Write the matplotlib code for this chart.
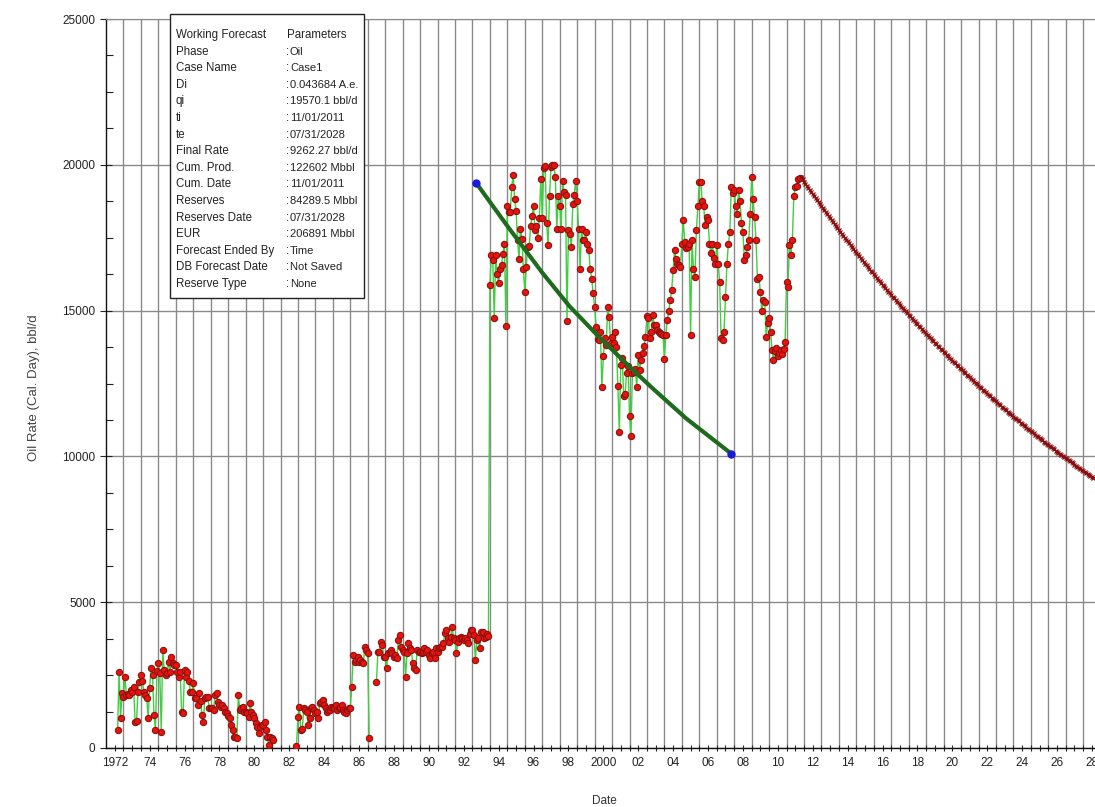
import numpy as np
import matplotlib.pyplot as plt
from matplotlib.patches import Rectangle
from matplotlib.ticker import MultipleLocator, FixedLocator, FixedFormatter

plt.rcParams['font.family'] = ['Liberation Sans', 'DejaVu Sans']
plt.rcParams['font.size'] = 8.5

nan = np.nan

# monthly oil rate (bbl/d, calendar day), one row per year, Jan..Dec
oil_1972_start = 1972
oil_1972 = [
    nan, nan, nan, nan, nan, nan, nan, nan, 620, 2620, 1020, 1880,
    1760, 2450, 1820, 1850, 1820, 1990, 1930, 2100, 900, 940, 1930, 2270,
    2500, 2300, 1930, 1820, 1700, 1020, 2050, 2730, 2500, 1130, 620, 2650,
    2900, 2560, 560, 3360, 2680, 2500, 2560, 2960, 2620, 3130, 2900, 2850,
    2850, 2620, 2450, 2620, 1250, 1190, 2680, 2450, 2620, 2300, 1930, 1930,
    2220, 1700, 1700, 1470, 1880, 1600, 1130, 900, 1700, 1760, 1760, 1360,
    1360, 1360, 1300, 1820, 1880, 1590, 1470, 1420, 1470, 1360, 1250, 1190,
    1100, 1020, 790, 620, 390, 390, 330, 1820, 1300, 1360, 1420, 1250,
    1250, 1190, 1070, 1530, 1250, 1130, 1020, 850, 730, 500, 730, 790,
    790, 900, 620, 390, 100, 390, 330, 270, nan, nan, nan, nan,
]

oil_1982_start = 1982
oil_1982 = [
    nan, nan, nan, nan, nan, nan, nan, nan, nan, nan, nan, 80,
    1070, 1420, 620, 640, 1360, 1300, 1250, 790, 1020, 1360, 1420, 1300,
    1190, 1250, 1020, 1530, 1590, 1650, 1470, 1360, 1250, 1300, 1300, 1420,
    1420, 1360, 1470, 1300, 1360, 1420, 1470, 1300, 1250, 1190, 1300, 1360,
    1360, 2100, 3190, 2960, 3020, 3130, 2960, 3020, 2960, 2900, 3480, 3360,
    3250, 330, nan, nan, nan, nan, 2280, 3300, 3300, 3650, 3530, 3130,
    3130, 2730, 3250, 3300, 3360, 3250, 3130, 3190, 3080, 3700, 3880, 3480,
    3360, 3300, 2450, 3250, 3590, 3420, 3360, 2900, 2730, 2680, 3360, 3300,
    3300, 3250, 3300, 3420, 3300, 3360, 3190, 3080, 3250, 3300, 3080, 3420,
    3300, 3420, 3480, 3480, 3590, 3930, 4050, 3760, 3650, 3820, 4160, 3760,
    3700, 3250, 3650, 3760, 3820, 3760, 3700, 3760, 3700, 3590, 3900, 4050,
    4050, 3880, 3020, 3700, 3760, 3420, 3990, 3990, 3760, 3820, 3900, 3850,
]

oil_1994_start = 1994
oil_1994 = [
    15880, 16900, 16730, 14740, 16900, 16270, 15950, 16440, 16560, 16950, 17300, 14480,
    18600, 18380, 18380, 19250, 19660, 18830, 18430, 17430, 16780, 17810, 17470, 16440,
    15650, 16500, 17180, 17200, 17890, 18260, 18600, 17750, 17890, 17500, 18180, 19510,
    18180, 19890, 19970, 18000, 17240, 18940, 19910, 20000, 20000, 19570, 17800, 18940,
    18600, 17810, 19430, 19060, 18980, 14630, 17750, 17640, 17180, 18660, 18980, 19450,
    18770, 17800, 16410, 17800, 17410, 17410, 17690, 17300, 17070, 16440, 16070, 15600,
    15140, 14430, 14020, 14000, 14280, 12390, 13430, 14060, 13830, 15140, 14770, 13890,
    14110, 13900, 14250, 13750, 12430, 10820, 13150, 13380, 12070, 12130, 12860, 13090,
    11390, 10710, 12860, 12900, 13000, 12390, 13490, 12980, 13320, 13550, 13770, 14110,
    14800, 14740, 14060, 14280, 14850, 14510, 14510, 14340, 14280, 14220, 14200, 14170,
    13340, 14170, 14680, 14970, 15360, 15700, 16400, 17070, 16780, 16610, 16560, 16500,
    17300, 18090, 17350, 17130, 17180, 17300, 14170, 17410, 16440, 16160, 17750, 18600,
    19400, 19400, 18770, 18600, 17920, 18200, 18090, 17300, 16960, 17300, 16800, 16610,
    17240, 16610, 15990, 14060, 13980, 14280, 15480, 16610, 17300, 17690, 19250, 19020,
    19140, 18600, 18320, 19140, 18750, 18000, 17690, 16730, 16900, 17180, 17410, 18320,
    19570, 18830, 18200, 17410, 16100, 16160, 15650, 14970, 15360, 15300, 14110, 14570,
    14740, 14280, 13660, 13320, 13600, 13720, 13430, 13550, 13660, 13500, 13700, 13940,
    15990, 15820, 17240, 16900, 17410, 18940, 19230, 19280, 19510, 19550,
]

# earlier decline trend drawn between the two blue handles
trend_years = [1993.21, 1995.0, 1997.0, 1998.56, 2000.28, 2002.0, 2003.33, 2005.25, 2007.84]
trend_rates = [19380, 17900, 16300, 15150, 14080, 13080, 12330, 11300, 10090]

# working forecast parameters (exponential, annual effective decline)
qi = 19570.1
di = 0.043684
ti = 2011 + 10 / 12
te = 2028 + 7 / 12 - 1 / 365

info_labels = ['Working Forecast', 'Phase', 'Case Name', 'Di', 'qi', 'ti', 'te',
               'Final Rate', 'Cum. Prod.', 'Cum. Date', 'Reserves', 'Reserves Date',
               'EUR', 'Forecast Ended By', 'DB Forecast Date', 'Reserve Type']
info_values = ['Parameters', 'Oil', 'Case1', '0.043684 A.e.', '19570.1 bbl/d',
               '11/01/2011', '07/31/2028', '9262.27 bbl/d', '122602 Mbbl',
               '11/01/2011', '84289.5 Mbbl', '07/31/2028', '206891 Mbbl',
               'Time', 'Not Saved', 'None']

year_labels = ['1972', '74', '76', '78', '80', '82', '84', '86', '88', '90', '92', '94',
               '96', '98', '2000', '02', '04', '06', '08', '10', '12', '14', '16', '18',
               '20', '22', '24', '26', '28']

W, H = 1095, 807
fig = plt.figure(figsize=(W / 100, H / 100), dpi=100)
ax = fig.add_axes([106 / W, 59 / H, 1 - 106 / W, (748 - 19) / H])

grid_kw = dict(color='#8a8a8a', lw=1.0)
line_green = '#3fcf3f'

for start, rates in [(oil_1972_start, oil_1972), (oil_1982_start, oil_1982),
                     (oil_1994_start, oil_1994)]:
    t = start + np.arange(len(rates)) / 12
    ax.plot(t, rates, color=line_green, lw=1.0, zorder=3)
    ax.plot(t, rates, ls='none', marker='o', ms=4.5, mfc='#e8140c', mec='#8e1010',
            mew=0.8, zorder=4)

# join the end of 1993 to the start of 1994 (one continuous record)
ax.plot([oil_1982_start + (len(oil_1982) - 1) / 12, oil_1994_start],
        [oil_1982[-1], oil_1994[0]], color=line_green, lw=1.0, zorder=3)

ax.plot(trend_years, trend_rates, color='#1e6b1e', lw=3.0, zorder=5,
        solid_capstyle='round', solid_joinstyle='round')
ax.plot([trend_years[0], trend_years[-1]], [trend_rates[0], trend_rates[-1]],
        ls='none', marker='o', ms=5, color='#1a1ad8', zorder=6)

fc_t = np.append(np.arange(ti, te, 1 / 12), te)
fc_q = qi * (1 - di) ** (fc_t - ti)
ax.plot(fc_t, fc_q, color='#9a1818', lw=1.4, zorder=5)
ax.plot(fc_t, fc_q, ls='none', marker='x', ms=3.4, mew=0.9, color='#8a1010', zorder=5)

ax.set_xlim(1972, 1972 + (W - 106) / 17.45)
ax.set_ylim(0, 25000)

# gridlines at each January, labels centred on even years
ax.xaxis.set_minor_locator(FixedLocator(np.arange(1973, 2029)))
ax.xaxis.set_major_locator(FixedLocator(np.arange(1972, 2029) + 0.5))
ax.xaxis.set_major_formatter(FixedFormatter(
    [year_labels[i // 2] if i % 2 == 0 else '' for i in range(57)]))
ax.grid(which='minor', axis='x', **grid_kw)
ax.yaxis.set_major_locator(MultipleLocator(5000))
ax.yaxis.set_minor_locator(MultipleLocator(1250))
ax.grid(which='major', axis='y', **grid_kw)
ax.set_axisbelow(True)

ax.tick_params(axis='x', which='both', direction='inout', length=5, width=0.8,
               pad=4, labelsize=8.5, colors='#222222')
ax.tick_params(axis='y', which='major', direction='inout', length=9, width=0.8,
               pad=3, labelsize=8.5, colors='#222222')
ax.tick_params(axis='y', which='minor', direction='in', length=5, width=0.8,
               colors='#222222')

for side in ['left', 'bottom']:
    ax.spines[side].set_color('#111111')
    ax.spines[side].set_linewidth(1.0)
ax.spines['right'].set_visible(False)
ax.spines['top'].set_color('#8a8a8a')

ax.set_ylabel('Oil Rate (Cal. Day), bbl/d', fontsize=9.5, color='#444444')
ax.yaxis.set_label_coords(-0.067, 0.494)
ax.set_xlabel('Date', fontsize=8.5, color='#333333')
ax.xaxis.set_label_coords(0.504, -0.064)

# forecast parameter table
box = Rectangle((170 / W, 1 - 298 / H), 194 / W, 284 / H, transform=fig.transFigure,
                facecolor='white', edgecolor='#222222', lw=1.0, zorder=10)
fig.add_artist(box)
for i, (lab, val) in enumerate(zip(info_labels, info_values)):
    y = 1 - (35 + i * 16.6) / H
    fig.text(176 / W, y, lab, ha='left', va='center', fontsize=8.3, color='#222222',
             zorder=11)
    if i == 0:
        fig.text(287 / W, y, val, ha='left', va='center', fontsize=8.3,
                 color='#222222', zorder=11)
    else:
        fig.text(286 / W, y, ':', ha='left', va='center', fontsize=8.3,
                 color='#222222', zorder=11)
        fig.text(290 / W, y, val, ha='left', va='center', fontsize=8.0,
                 color='#222222', zorder=11)

fig.savefig('out.png', dpi=100, facecolor='white')
